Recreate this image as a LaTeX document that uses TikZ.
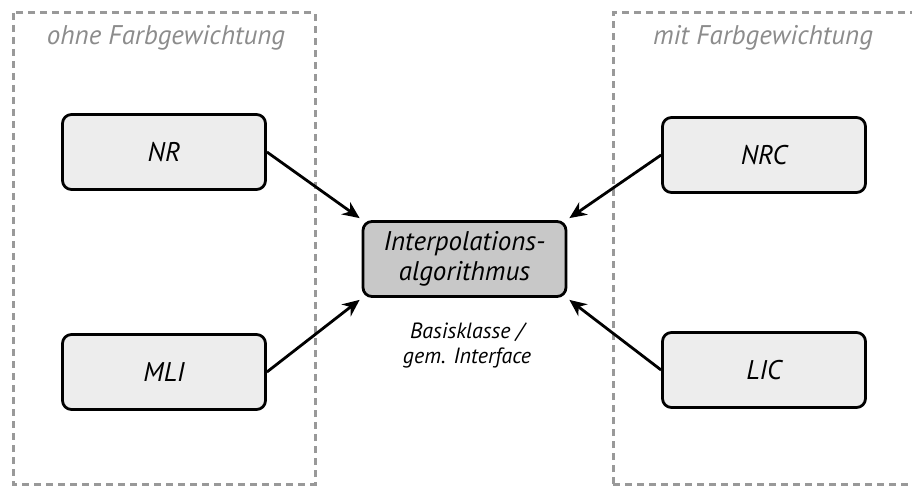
\documentclass[tikz,border=0pt]{standalone}
\usepackage{fontspec}
\setmainfont{PT Sans}
\usetikzlibrary{arrows.meta}
\definecolor{boxfill}{HTML}{EDEDED}
\definecolor{corefill}{HTML}{C8C8C8}
\definecolor{framegray}{HTML}{999999}
\definecolor{titlegray}{HTML}{8C8C8C}
\begin{document}
\begin{tikzpicture}[x=1pt,y=-1pt,
  group/.style={draw=framegray,line width=3pt,dash pattern=on 7pt off 5pt},
  grouptitle/.style={text=titlegray,font=\fontsize{27}{30}\selectfont\itshape,anchor=base},
  algo/.style={draw=black,line width=2.8pt,fill=boxfill,rounded corners=9pt,
    minimum width=203pt,minimum height=75pt,font=\fontsize{27}{30}\selectfont\itshape},
  core/.style={algo,fill=corefill,align=center,font=\fontsize{27}{30}\selectfont\itshape},
  note/.style={align=center,font=\fontsize{22}{25}\selectfont\itshape},
  link/.style={line width=2.8pt,-{Stealth[length=17pt,width=15pt]}}]
\useasboundingbox (0,0) rectangle (912,486);
% dashed groups
\draw[group] (13,13) rectangle (315,484);
\draw[group] (613,484) -- (613,13) -- (915,13);
\draw[group] (613,484) -- (915,484);
\node[grouptitle] (tleft) at (166,45) {ohne Farbgewichtung};
\node[grouptitle] (tright) at (763,45) {mit Farbgewichtung};
% nodes
\node[algo] (nr) at (164,152) {NR};
\node[algo] (mli) at (164,372) {MLI};
\node[algo] (nrc) at (764,155) {NRC};
\node[algo] (lic) at (764,370) {LIC};
\node[core] (ip) at (464.5,259) {Interpolations-\\algorithmus};
\node[note] (base) at (467,345) {Basisklasse /\\gem. Interface};
% connectors
\draw[link] (nr.east) -- ([shift={(-2,-2)}]ip.north west);
\draw[link] (mli.east) -- ([shift={(-2,2)}]ip.south west);
\draw[link] (nrc.west) -- ([shift={(2,-2)}]ip.north east);
\draw[link] (lic.west) -- ([shift={(2,2)}]ip.south east);
\end{tikzpicture}
\end{document}
